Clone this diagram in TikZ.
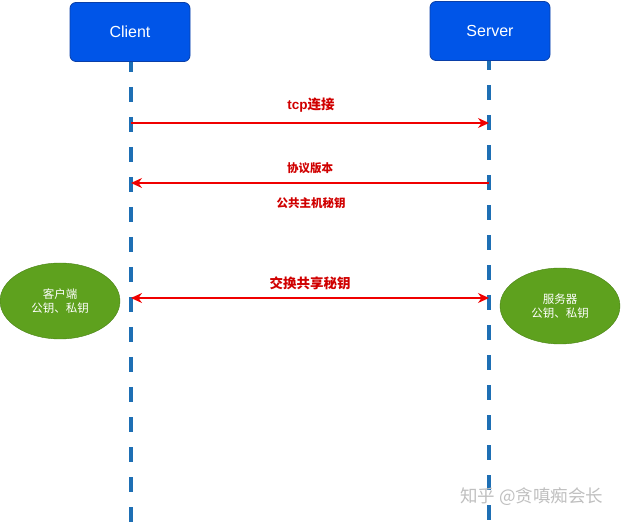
\documentclass[tikz,border=0pt]{standalone}
\usepackage{fontspec}
\setmainfont{Liberation Sans}
\newfontfamily\cjk{Noto Sans CJK SC}
\usetikzlibrary{arrows.meta,shapes.geometric}
\definecolor{boxblue}{HTML}{0055E8}
\definecolor{boxedge}{HTML}{0A3FA8}
\definecolor{lifeblue}{HTML}{1E6FB4}
\definecolor{leafgreen}{HTML}{5EA11E}
\definecolor{leafedge}{HTML}{4A8216}
\definecolor{msgred}{HTML}{F00000}
\definecolor{labred}{HTML}{D00000}
\tikzset{
  actor/.style={draw=boxedge, fill=boxblue, rounded corners=6pt, minimum width=120pt, minimum height=59pt, text=white, font=\fontsize{16}{18}\selectfont, line width=0.8pt},
  lifeline/.style={draw=lifeblue, line width=4.5pt, dash pattern=on 15pt off 15pt},
  msg/.style={draw=msgred, line width=1.3pt},
  msglabel/.style={text=labred, font=\cjk\bfseries\fontsize{11.5}{13}\selectfont},
  biglabel/.style={msglabel, font=\cjk\bfseries\fontsize{13.5}{15}\selectfont},
  keyell/.style={ellipse, draw=leafedge, fill=leafgreen, minimum width=120pt, minimum height=76pt, text=white, align=center, font=\cjk\fontsize{11.5}{14}\selectfont, inner sep=0pt},
  tip/.style={-{Stealth[length=11pt,width=10pt]}},
}
\begin{document}
\begin{tikzpicture}[x=1pt,y=-1pt]
\useasboundingbox (0,0) rectangle (621,526);
\coordinate (ctop) at (131,57);
\coordinate (stop) at (489,55);
\coordinate (cend) at (131,530);
\coordinate (send) at (489,530);
\draw[lifeline] (ctop) -- (cend);
\draw[lifeline] (stop) -- (send);
\node[actor] (client) at (130,32) {Client};
\node[actor] (server) at (490,31) {Server};
\coordinate (c1) at (131,123);
\coordinate (s1) at (489,123);
\coordinate (c2) at (131,183);
\coordinate (s2) at (489,183);
\coordinate (c3) at (131,298);
\coordinate (s3) at (489,298);
\draw[msg, tip] (c1) -- (s1);
\draw[msg, tip] (s2) -- (c2);
\draw[msg, {Stealth[length=11pt,width=10pt]}-{Stealth[length=11pt,width=10pt]}] (c3) -- (s3);
\node[biglabel] (l1) at (311,105) {{\fontspec{Liberation Sans}\bfseries tcp}连接};
\node[msglabel] (l2) at (310,168) {协议版本};
\node[msglabel] (l3) at (311,203) {公共主机秘钥};
\node[biglabel] (l4) at (310,283) {交换共享秘钥};
\node[keyell] (ck) at (60,301) {客户端\\公钥、私钥};
\node[keyell] (sk) at (560,306) {服务器\\公钥、私钥};
\node[text=black!25, font=\cjk\fontsize{17.5}{20}\selectfont, anchor=east] (wm) at (607,497) {知乎 @贪嗔痴会长};
\end{tikzpicture}
\end{document}
